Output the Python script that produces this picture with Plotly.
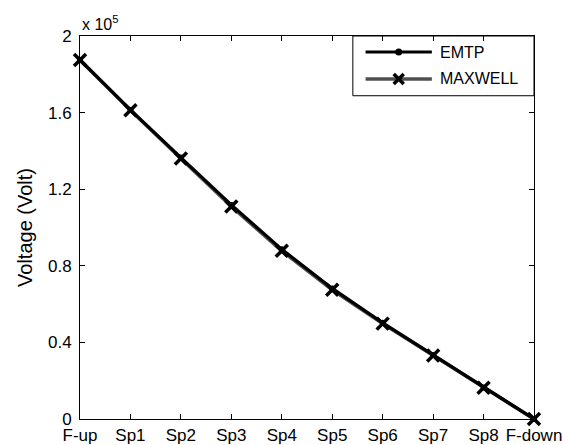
import plotly.graph_objects as go

categories = ["F-up", "Sp1", "Sp2", "Sp3", "Sp4", "Sp5", "Sp6", "Sp7", "Sp8", "F-down"]
emtp = [187500, 161400, 136500, 111800, 88600, 68200, 50200, 33400, 16400, 0]
maxwell = [187500, 161200, 136000, 111000, 87800, 67500, 49800, 33200, 16300, 0]
ytick_vals = [0, 40000, 80000, 120000, 160000, 200000]
ytick_text = ["0", "0.4", "0.8", "1.2", "1.6", "2"]

FONT = "Liberation Sans, Arial, sans-serif"
xs = list(range(len(categories)))

fig = go.Figure()
fig.add_trace(go.Scatter(
    x=xs, y=maxwell, mode="lines+markers", name="MAXWELL",
    line=dict(color="#505050", width=3.5),
    marker=dict(symbol="x-thin", size=12, color="black", line=dict(width=3.5, color="black")),
    cliponaxis=False, showlegend=False))
fig.add_trace(go.Scatter(
    x=xs, y=emtp, mode="lines+markers", name="EMTP",
    line=dict(color="black", width=3.2),
    marker=dict(symbol="circle", size=6, color="black"),
    cliponaxis=False, showlegend=False))

# manual legend (MATLAB style)
lx0, lx1, lxm, ltx = 0.629, 0.775, 0.702, 0.789
ly_e, ly_m = 0.958, 0.888
fig.add_shape(type="rect", xref="paper", yref="paper", x0=0.601, x1=1.0, y0=0.844, y1=1.0,
              line=dict(color="black", width=1), fillcolor="white", layer="below")
fig.add_shape(type="line", xref="paper", yref="paper", x0=lx0, x1=lx1, y0=ly_e, y1=ly_e,
              line=dict(color="black", width=3), layer="below")
fig.add_shape(type="line", xref="paper", yref="paper", x0=lx0, x1=lx1, y0=ly_m, y1=ly_m,
              line=dict(color="#505050", width=3.5), layer="below")
fig.add_trace(go.Scatter(x=[lxm], y=[ly_e], xaxis="x2", yaxis="y2", mode="markers",
                         marker=dict(symbol="circle", size=7, color="black"),
                         showlegend=False, hoverinfo="skip", cliponaxis=False))
fig.add_trace(go.Scatter(x=[lxm], y=[ly_m], xaxis="x2", yaxis="y2", mode="markers",
                         marker=dict(symbol="x-thin", size=10, color="black", line=dict(width=3.5, color="black")),
                         showlegend=False, hoverinfo="skip", cliponaxis=False))
for txt, yy in [("EMTP", ly_e), ("MAXWELL", ly_m)]:
    fig.add_annotation(x=ltx, y=yy, xref="paper", yref="paper", text=txt, showarrow=False,
                       xanchor="left", yanchor="middle", font=dict(size=16, color="black", family=FONT))

fig.add_annotation(x=0.0, y=1.0, xref="paper", yref="paper", text="x 10<sup>5</sup>",
                   showarrow=False, xanchor="left", yanchor="bottom", yshift=1,
                   font=dict(size=16, color="black", family=FONT))

axis_common = dict(showgrid=False, zeroline=False, showline=True, linecolor="black", linewidth=1,
                   mirror="ticks", ticks="inside", ticklen=5, tickcolor="black", automargin=False,
                   tickfont=dict(size=17, color="black", family=FONT))
fig.update_layout(
    width=564, height=445, margin=dict(l=80, r=30, t=36, b=26),
    paper_bgcolor="white", plot_bgcolor="white",
    font=dict(family=FONT, color="black"),
    xaxis=dict(range=[0, 9], tickvals=xs, ticktext=categories, ticklabelstandoff=1, **axis_common),
    yaxis=dict(range=[0, 200000], tickvals=ytick_vals, ticktext=ytick_text,
               title=dict(text="Voltage (Volt)", font=dict(size=20, family=FONT), standoff=9),
               ticklabelstandoff=4, **axis_common),
    xaxis2=dict(range=[0, 1], overlaying="x", visible=False, fixedrange=True),
    yaxis2=dict(range=[0, 1], overlaying="y", visible=False, fixedrange=True),
)
fig.write_html("out.html")
